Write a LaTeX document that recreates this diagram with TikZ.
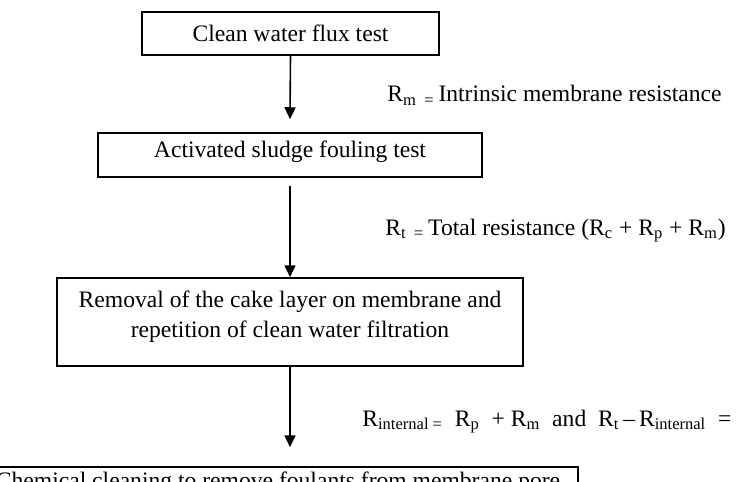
\documentclass[tikz,border=0pt]{standalone}
\usepackage{fontspec}
\setmainfont{Liberation Serif}
\usetikzlibrary{arrows.meta}
\begin{document}
\begin{tikzpicture}[x=0.5pt,y=-0.5pt,
  font=\fontsize{11.8}{15}\selectfont,
  box/.style={draw, line width=0.75pt, inner sep=0pt, anchor=base},
  arr/.style={line width=0.8pt, -{Triangle[length=6pt,width=5.5pt]}},
  lbl/.style={anchor=base west, inner sep=0pt}]
\useasboundingbox (0,0) rectangle (741,482);
\clip (0,0) rectangle (741,482);
\node[box, minimum width=148.5pt, text height=14.75pt, text depth=6.75pt] (b1) at (290.5,41.5) {Clean water flux test};
\node[box, minimum width=192pt, text height=12pt, text depth=10pt] (b2) at (290,157) {Activated sludge fouling test};
\node[box, minimum width=233pt, text height=14.5pt, text depth=29.5pt] (b3) at (290,307)
  {\begin{tabular}[t]{@{}c@{}}Removal of the cake layer on membrane and\\repetition of clean water filtration\end{tabular}};
\node[box, minimum width=300pt, text height=10.5pt, text depth=10pt] (b4) at (278,488) {Chemical cleaning to remove foulants from membrane pore};
\node[lbl] (l1) at (387,102) {R\textsubscript{m\ \ =}\,Intrinsic membrane resistance};
\node[lbl] (l2) at (385,235) {R\textsubscript{t\ \ =}\,Total resistance (R\textsubscript{c} + R\textsubscript{p} + R\textsubscript{m})};
\node[lbl] (l3) at (362,426) {R\textsubscript{internal\ =}\ \ R\textsubscript{p}\ \ + R\textsubscript{m}\ \ and\ \ R\textsubscript{t}\,\textendash\,R\textsubscript{internal}\ \ =};
\draw[arr] (b1.south) -- ([yshift=6.5pt]b2.north);
\draw[arr] ([yshift=-4pt]b2.south) -- (b3.north);
\draw[arr] (b3.south) -- ([yshift=9.5pt]b3.south |- b4.north);
\end{tikzpicture}
\end{document}
